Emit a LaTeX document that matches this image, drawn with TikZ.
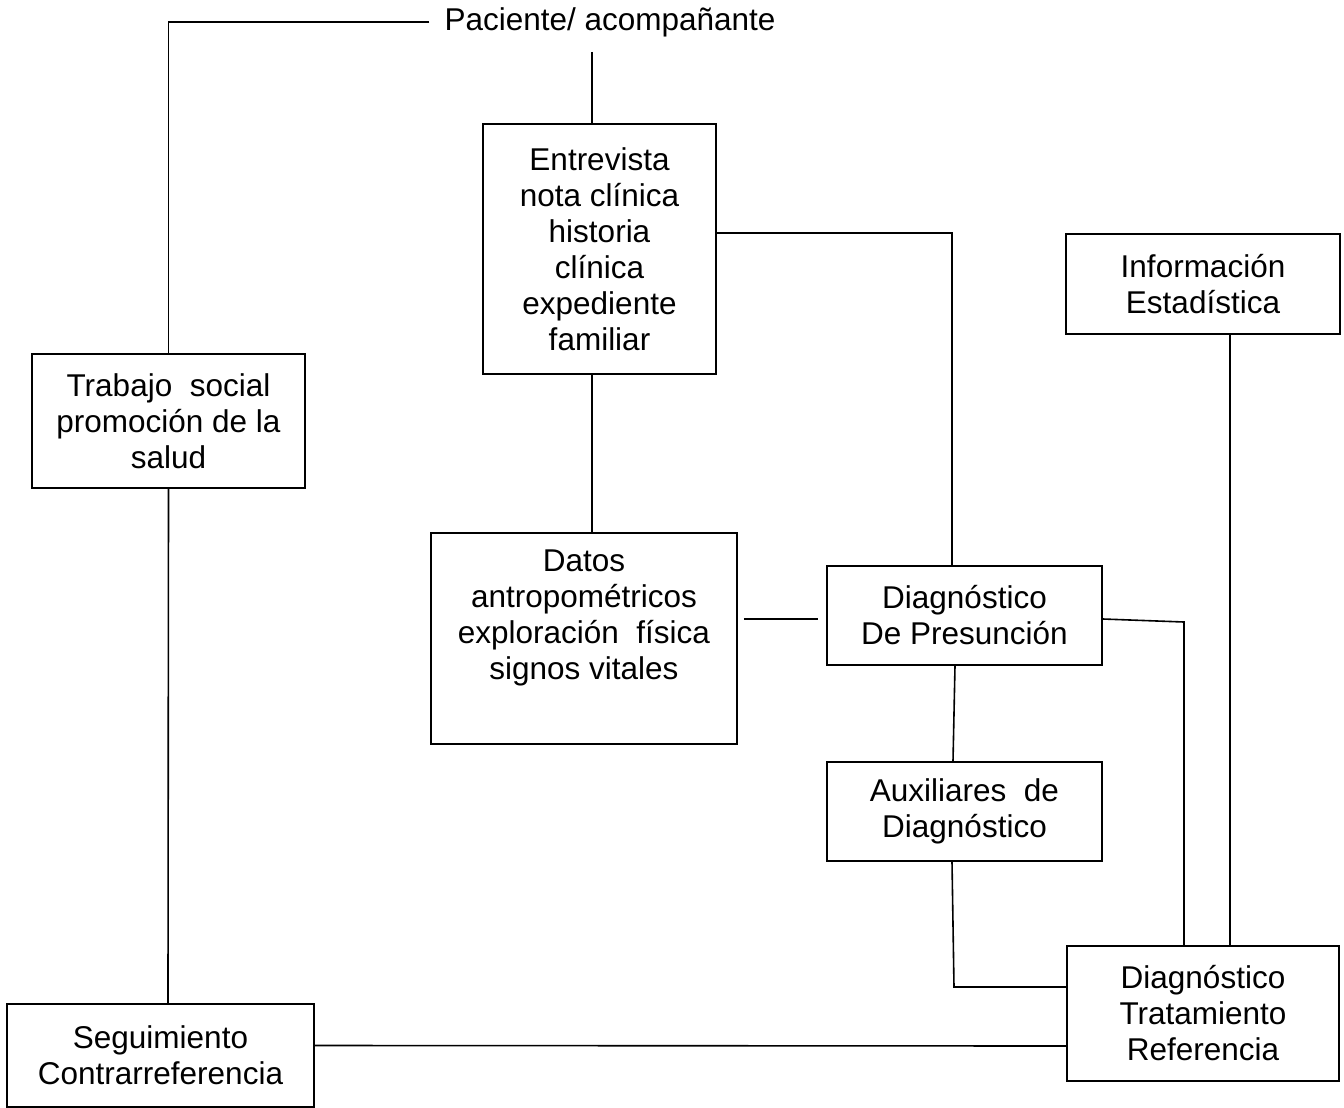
\documentclass[tikz,border=0pt]{standalone}
\usepackage{fontspec}
\setmainfont{Liberation Sans}
\begin{document}
\begin{tikzpicture}[x=1pt,y=-1pt,
  box/.style={draw,line width=1.6pt,rectangle,inner sep=0pt,align=center,
    font=\fontsize{31.5}{36}\selectfont},
  txt/.style={inner sep=0pt,align=center,font=\fontsize{31.5}{36}\selectfont},
  conn/.style={line width=1.6pt}]
\useasboundingbox (0,0) rectangle (1344,1108);
% boxes
\node[txt] (pac) at (610,22) {Paciente/ acompañante};
\node[box,minimum width=233pt,minimum height=250pt] (ent) at (599.5,249)
  {Entrevista\\nota clínica\\historia\\clínica\\expediente\\familiar};
\node[box,minimum width=274pt,minimum height=100pt] (info) at (1203,284)
  {Información\\Estadística};
\node[box,minimum width=273pt,minimum height=134pt] (trab) at (168.5,421)
  {Trabajo~ social\\promoción de la\\salud};
\node[box,minimum width=306pt,minimum height=211pt] (datos) at (584,638.5) {};
\node[txt] (datosT) at (584,618)
  {Datos\\antropométricos\\exploración~ física\\signos vitales};
\node[box,minimum width=275pt,minimum height=99pt] (pres) at (964.5,615.5)
  {Diagnóstico\\De Presunción};
\node[box,minimum width=275pt,minimum height=99pt] (aux) at (964.5,811.5)
  {Auxiliares~ de\\Diagnóstico};
\node[box,minimum width=272pt,minimum height=135pt] (trat) at (1203,1013.5)
  {Diagnóstico\\Tratamiento\\Referencia};
\node[box,minimum width=307pt,minimum height=103pt] (seg) at (160.5,1055.5)
  {Seguimiento\\Contrarreferencia};
% helper coordinates
\coordinate (pacb) at (592,52);
\coordinate (bendA) at (1184,622);
\coordinate (bendB) at (954,987);
% connectors
\draw[conn] ([xshift=-15pt]pac.west) -| (trab.north);
\draw[conn] (pacb) -- ([xshift=-7.5pt]ent.north);
\draw[conn] ([yshift=16pt]ent.east) -| ([xshift=-12.5pt]pres.north);
\draw[conn] ([xshift=-7.5pt]ent.south) -- ([xshift=8pt]datos.north);
\draw[conn] ([xshift=6pt,yshift=19.5pt]datos.east) -- ([xshift=-8pt,yshift=-3.5pt]pres.west);
\draw[conn] ([xshift=-9.5pt]pres.south) -- ([xshift=-11.5pt]aux.north);
\draw[conn] ([yshift=-3.5pt]pres.east) -- (bendA) -- ([xshift=-19pt]trat.north);
\draw[conn] ([xshift=27pt]info.south) -- ([xshift=27pt]trat.north);
\draw[conn] ([xshift=-12.5pt]aux.south) -- (bendB) -- ([yshift=26.5pt]trat.west);
\draw[conn] (trab.south) -- ([xshift=7.5pt]seg.north);
\draw[conn] ([yshift=10pt]seg.east) -- ([yshift=-32.5pt]trat.west);
\end{tikzpicture}
\end{document}
